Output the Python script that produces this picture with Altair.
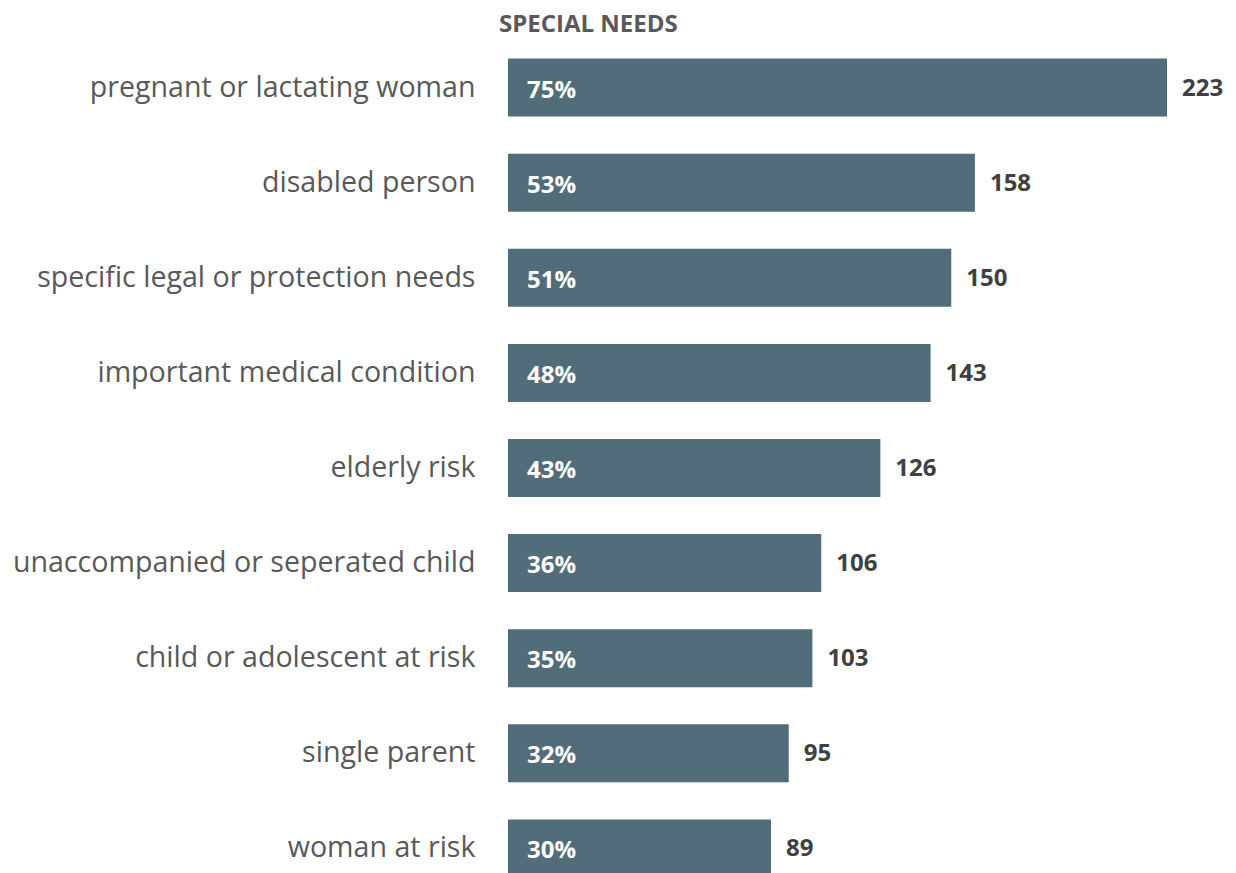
import altair as alt
import pandas as pd

categories = [
    "pregnant or lactating woman",
    "disabled person",
    "specific legal or protection needs",
    "important  medical condition",
    "elderly risk",
    "unaccompanied or seperated child",
    "child or adolescent at risk",
    "single parent",
    "woman at risk",
]
counts = [223, 158, 150, 143, 126, 106, 103, 95, 89]
percents = [75, 53, 51, 48, 43, 36, 35, 32, 30]

df = pd.DataFrame({
    "cat": categories,
    "count": counts,
    "pct": [f"{p}%" for p in percents],
})

BAR = "#526d7a"
FONT = "Open Sans"

y = alt.Y("cat:N", sort=categories, title=None,
          scale=alt.Scale(paddingInner=0.39, paddingOuter=0.195),
          axis=alt.Axis(domain=False, ticks=False, labelFontSize=28.6, labelColor="#595959",
                        labelFont=FONT, labelPadding=33, labelLimit=600))
xscale = alt.Scale(domain=[0, 223], nice=False, zero=True)

base = alt.Chart(df).encode(y=y)

bars = base.mark_bar(color=BAR).encode(
    x=alt.X("count:Q", title=None, axis=None, scale=xscale))

pct_text = base.transform_calculate(start="0").mark_text(
    align="left", baseline="middle", dx=19, dy=3,
    font=FONT, fontSize=24, fontWeight="bold", color="white").encode(
    x=alt.X("start:Q", title=None, axis=None, scale=xscale), text="pct:N")

cnt_text = base.mark_text(align="left", baseline="middle", dx=15, dy=1,
                          font=FONT, fontSize=24, fontWeight="bold", color="#404040").encode(
    x=alt.X("count:Q", title=None, axis=None, scale=xscale), text="count:Q")

chart = alt.layer(bars, pct_text, cnt_text).properties(
    width=659,
    height=856,
    autosize=alt.AutoSizeParams(type="none"),
    padding={"left": 500, "top": 32, "right": 60, "bottom": 0},
    title=alt.TitleParams("SPECIAL NEEDS", anchor="start", frame="group", dx=-9, offset=3,
                          font=FONT, fontSize=24, fontWeight="bold", color="#595959"),
).configure_view(stroke=None)

chart.save("out.html", embed_options={"renderer": "svg", "actions": False})
